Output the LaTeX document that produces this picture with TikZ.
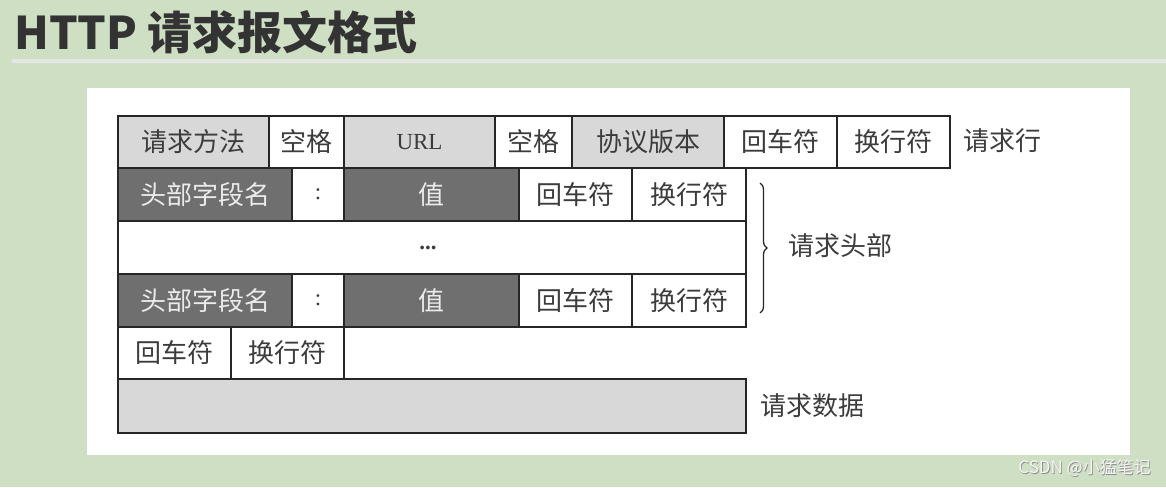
\documentclass[tikz,border=0pt]{standalone}
\usepackage{fontspec}
\usetikzlibrary{decorations.pathreplacing}
\newfontfamily\cjk{Noto Sans CJK SC}
\newfontfamily\serifl{Liberation Serif}
\definecolor{bggreen}{HTML}{CEDFC4}
\definecolor{lightfill}{HTML}{D8D8D8}
\definecolor{darkfill}{HTML}{6F6F6F}
\definecolor{txt}{HTML}{3C3C3C}
\definecolor{titlec}{HTML}{333333}
\begin{document}
\begin{tikzpicture}[x=1pt,y=-1pt,
  cell/.style={draw=black!85, line width=1.6pt, inner sep=0pt, outer sep=0pt, anchor=north west,
    font=\cjk\fontsize{26}{26}\selectfont, text=txt},
  lightcell/.style={cell, fill=lightfill},
  darkcell/.style={cell, fill=darkfill, text=white!92!black},
  whitecell/.style={cell, fill=white},
  sidelabel/.style={font=\cjk\fontsize{26}{26}\selectfont, text=txt, inner sep=0pt},
  wmark/.style={anchor=east, inner sep=0pt, font=\cjk\fontsize{17}{17}\selectfont}]
\fill[bggreen] (0,0) rectangle (1166,487);
\useasboundingbox (0,0) rectangle (1166,487);
% title
\node[anchor=base west, inner sep=0pt, text=titlec, font=\cjk\bfseries\fontsize{45}{45}\selectfont] (title) at (14,50) {HTTP 请求报文格式};
\draw[line width=3pt, color=white!90!black] (12,61) -- (1166,61);
% panel
\fill[white] (87,88) rectangle (1130,455);
% row 1
\node[lightcell, minimum width=151pt, minimum height=52pt] (m) at (118,116) {请求方法};
\node[whitecell, minimum width=75pt, minimum height=52pt] (sp1) at (269,116) {空格};
\node[lightcell, minimum width=151pt, minimum height=52pt, font=\serifl\fontsize{23}{23}\selectfont] (url) at (344,116) {URL};
\node[whitecell, minimum width=77pt, minimum height=52pt] (sp2) at (495,116) {空格};
\node[lightcell, minimum width=152pt, minimum height=52pt] (ver) at (572,116) {协议版本};
\node[whitecell, minimum width=113pt, minimum height=52pt] (cr1) at (724,116) {回车符};
\node[whitecell, minimum width=113pt, minimum height=52pt] (lf1) at (837,116) {换行符};
\node[sidelabel, anchor=west] (reqline) at (963,141) {请求行};
% row 2
\node[darkcell, minimum width=174pt, minimum height=53pt] (h1) at (118,168) {头部字段名};
\node[whitecell, minimum width=52pt, minimum height=53pt, font=\serifl\fontsize{23}{23}\selectfont] (c1) at (292,168) {:};
\node[darkcell, minimum width=175pt, minimum height=53pt] (v1) at (344,168) {值};
\node[whitecell, minimum width=113pt, minimum height=53pt] (cr2) at (519,168) {回车符};
\node[whitecell, minimum width=114pt, minimum height=53pt] (lf2) at (632,168) {换行符};
% row 3
\node[whitecell, minimum width=628pt, minimum height=53pt, font=\serifl\fontsize{23}{23}\selectfont] (dots) at (118,221) {\hspace*{-8pt}\textbf{...}};
% row 4
\node[darkcell, minimum width=174pt, minimum height=53pt] (h2) at (118,274) {头部字段名};
\node[whitecell, minimum width=52pt, minimum height=53pt, font=\serifl\fontsize{23}{23}\selectfont] (c2) at (292,274) {:};
\node[darkcell, minimum width=175pt, minimum height=53pt] (v2) at (344,274) {值};
\node[whitecell, minimum width=113pt, minimum height=53pt] (cr3) at (519,274) {回车符};
\node[whitecell, minimum width=114pt, minimum height=53pt] (lf3) at (632,274) {换行符};
% row 5
\node[whitecell, minimum width=113pt, minimum height=52pt] (cr4) at (118,327) {回车符};
\node[whitecell, minimum width=113pt, minimum height=52pt] (lf4) at (231,327) {换行符};
% row 6
\node[lightcell, minimum width=628pt, minimum height=54pt] (data) at (118,379) {};
\node[sidelabel, anchor=west] (reqdata) at (760,406) {请求数据};
% brace
\coordinate (btop) at (760,183);
\coordinate (bbot) at (760,313);
\draw[line width=1.3pt, black!85, decorate, decoration={brace, amplitude=7pt}] (btop) -- (bbot);
\node[sidelabel, anchor=west] (reqhead) at (788,246) {请求头部};
% watermark (light text with soft shadow)
\node[wmark, text=black!45] (wmshadow) at (1151.8,468.8) {CSDN @小猛笔记};
\node[wmark, text=white!96!black] (wm) at (1151,468) {CSDN @小猛笔记};
\end{tikzpicture}
\end{document}
